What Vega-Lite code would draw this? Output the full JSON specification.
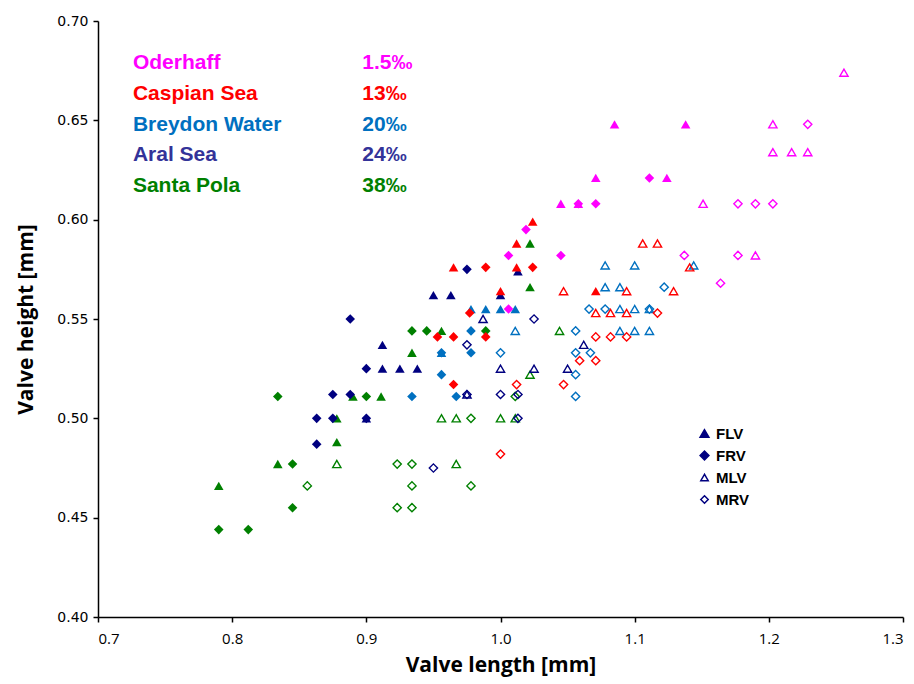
{
  "$schema": "https://vega.github.io/schema/vega-lite/v6.json",
  "width": 805,
  "height": 596,
  "autosize": "none",
  "padding": {"left": 98, "top": 21, "right": 11, "bottom": 67},
  "background": "white",
  "config": {
    "view": {"stroke": null},
    "axis": {"grid": false, "domainColor": "black", "domainWidth": 1.5, "tickColor": "black", "tickWidth": 1.5, "tickSize": 5, "labelColor": "black", "titleColor": "black"},
    "legend": {"labelFont": "Liberation Sans", "labelFontWeight": "bold", "labelFontSize": 15, "labelColor": "black", "symbolSize": 55, "symbolStrokeWidth": 1.5, "rowPadding": 6, "labelOffset": 4}
  },
  "datasets": {
    "pts": [
      {"site": "Santa Pola", "type": "FLV", "x": 1.022, "y": 0.588},
      {"site": "Santa Pola", "type": "FLV", "x": 1.022, "y": 0.566},
      {"site": "Santa Pola", "type": "FLV", "x": 0.956, "y": 0.544},
      {"site": "Santa Pola", "type": "FLV", "x": 0.934, "y": 0.533},
      {"site": "Santa Pola", "type": "FLV", "x": 0.890, "y": 0.511},
      {"site": "Santa Pola", "type": "FLV", "x": 0.911, "y": 0.511},
      {"site": "Santa Pola", "type": "FLV", "x": 0.878, "y": 0.500},
      {"site": "Santa Pola", "type": "FLV", "x": 0.878, "y": 0.488},
      {"site": "Santa Pola", "type": "FLV", "x": 0.834, "y": 0.477},
      {"site": "Santa Pola", "type": "FLV", "x": 0.790, "y": 0.466},
      {"site": "Santa Pola", "type": "FRV", "x": 0.934, "y": 0.544},
      {"site": "Santa Pola", "type": "FRV", "x": 0.945, "y": 0.544},
      {"site": "Santa Pola", "type": "FRV", "x": 0.989, "y": 0.544},
      {"site": "Santa Pola", "type": "FRV", "x": 0.900, "y": 0.511},
      {"site": "Santa Pola", "type": "FRV", "x": 0.834, "y": 0.511},
      {"site": "Santa Pola", "type": "FRV", "x": 0.845, "y": 0.477},
      {"site": "Santa Pola", "type": "FRV", "x": 0.845, "y": 0.455},
      {"site": "Santa Pola", "type": "FRV", "x": 0.790, "y": 0.444},
      {"site": "Santa Pola", "type": "FRV", "x": 0.812, "y": 0.444},
      {"site": "Santa Pola", "type": "MLV", "x": 1.044, "y": 0.544},
      {"site": "Santa Pola", "type": "MLV", "x": 1.022, "y": 0.522},
      {"site": "Santa Pola", "type": "MLV", "x": 0.956, "y": 0.500},
      {"site": "Santa Pola", "type": "MLV", "x": 0.967, "y": 0.500},
      {"site": "Santa Pola", "type": "MLV", "x": 1.000, "y": 0.500},
      {"site": "Santa Pola", "type": "MLV", "x": 1.011, "y": 0.500},
      {"site": "Santa Pola", "type": "MLV", "x": 0.878, "y": 0.477},
      {"site": "Santa Pola", "type": "MLV", "x": 0.967, "y": 0.477},
      {"site": "Santa Pola", "type": "MRV", "x": 0.978, "y": 0.500},
      {"site": "Santa Pola", "type": "MRV", "x": 1.011, "y": 0.511},
      {"site": "Santa Pola", "type": "MRV", "x": 0.923, "y": 0.477},
      {"site": "Santa Pola", "type": "MRV", "x": 0.934, "y": 0.477},
      {"site": "Santa Pola", "type": "MRV", "x": 0.856, "y": 0.466},
      {"site": "Santa Pola", "type": "MRV", "x": 0.934, "y": 0.466},
      {"site": "Santa Pola", "type": "MRV", "x": 0.978, "y": 0.466},
      {"site": "Santa Pola", "type": "MRV", "x": 0.923, "y": 0.455},
      {"site": "Santa Pola", "type": "MRV", "x": 0.934, "y": 0.455},
      {"site": "Aral Sea", "type": "FLV", "x": 1.013, "y": 0.574},
      {"site": "Aral Sea", "type": "FLV", "x": 1.000, "y": 0.562},
      {"site": "Aral Sea", "type": "FLV", "x": 0.950, "y": 0.562},
      {"site": "Aral Sea", "type": "FLV", "x": 0.963, "y": 0.562},
      {"site": "Aral Sea", "type": "FLV", "x": 0.912, "y": 0.537},
      {"site": "Aral Sea", "type": "FLV", "x": 0.912, "y": 0.525},
      {"site": "Aral Sea", "type": "FLV", "x": 0.925, "y": 0.525},
      {"site": "Aral Sea", "type": "FLV", "x": 0.938, "y": 0.525},
      {"site": "Aral Sea", "type": "FLV", "x": 0.900, "y": 0.500},
      {"site": "Aral Sea", "type": "FRV", "x": 0.975, "y": 0.575},
      {"site": "Aral Sea", "type": "FRV", "x": 0.888, "y": 0.550},
      {"site": "Aral Sea", "type": "FRV", "x": 0.900, "y": 0.525},
      {"site": "Aral Sea", "type": "FRV", "x": 0.875, "y": 0.512},
      {"site": "Aral Sea", "type": "FRV", "x": 0.888, "y": 0.512},
      {"site": "Aral Sea", "type": "FRV", "x": 0.863, "y": 0.500},
      {"site": "Aral Sea", "type": "FRV", "x": 0.875, "y": 0.500},
      {"site": "Aral Sea", "type": "FRV", "x": 0.863, "y": 0.487},
      {"site": "Aral Sea", "type": "FRV", "x": 0.900, "y": 0.500},
      {"site": "Aral Sea", "type": "MLV", "x": 0.987, "y": 0.550},
      {"site": "Aral Sea", "type": "MLV", "x": 1.000, "y": 0.525},
      {"site": "Aral Sea", "type": "MLV", "x": 1.025, "y": 0.525},
      {"site": "Aral Sea", "type": "MLV", "x": 1.050, "y": 0.525},
      {"site": "Aral Sea", "type": "MLV", "x": 1.062, "y": 0.537},
      {"site": "Aral Sea", "type": "MLV", "x": 0.975, "y": 0.512},
      {"site": "Aral Sea", "type": "MRV", "x": 1.025, "y": 0.550},
      {"site": "Aral Sea", "type": "MRV", "x": 0.975, "y": 0.537},
      {"site": "Aral Sea", "type": "MRV", "x": 0.975, "y": 0.512},
      {"site": "Aral Sea", "type": "MRV", "x": 1.000, "y": 0.512},
      {"site": "Aral Sea", "type": "MRV", "x": 1.013, "y": 0.512},
      {"site": "Aral Sea", "type": "MRV", "x": 1.013, "y": 0.500},
      {"site": "Aral Sea", "type": "MRV", "x": 0.950, "y": 0.475},
      {"site": "Breydon Water", "type": "FLV", "x": 0.978, "y": 0.555},
      {"site": "Breydon Water", "type": "FLV", "x": 0.989, "y": 0.555},
      {"site": "Breydon Water", "type": "FLV", "x": 1.000, "y": 0.555},
      {"site": "Breydon Water", "type": "FLV", "x": 1.011, "y": 0.555},
      {"site": "Breydon Water", "type": "FLV", "x": 0.956, "y": 0.533},
      {"site": "Breydon Water", "type": "FRV", "x": 0.956, "y": 0.533},
      {"site": "Breydon Water", "type": "FRV", "x": 0.978, "y": 0.544},
      {"site": "Breydon Water", "type": "FRV", "x": 0.978, "y": 0.533},
      {"site": "Breydon Water", "type": "FRV", "x": 0.956, "y": 0.522},
      {"site": "Breydon Water", "type": "FRV", "x": 0.967, "y": 0.511},
      {"site": "Breydon Water", "type": "FRV", "x": 0.934, "y": 0.511},
      {"site": "Breydon Water", "type": "MLV", "x": 1.011, "y": 0.544},
      {"site": "Breydon Water", "type": "MLV", "x": 1.078, "y": 0.577},
      {"site": "Breydon Water", "type": "MLV", "x": 1.100, "y": 0.577},
      {"site": "Breydon Water", "type": "MLV", "x": 1.144, "y": 0.577},
      {"site": "Breydon Water", "type": "MLV", "x": 1.078, "y": 0.566},
      {"site": "Breydon Water", "type": "MLV", "x": 1.089, "y": 0.566},
      {"site": "Breydon Water", "type": "MLV", "x": 1.089, "y": 0.555},
      {"site": "Breydon Water", "type": "MLV", "x": 1.100, "y": 0.555},
      {"site": "Breydon Water", "type": "MLV", "x": 1.111, "y": 0.555},
      {"site": "Breydon Water", "type": "MLV", "x": 1.089, "y": 0.544},
      {"site": "Breydon Water", "type": "MLV", "x": 1.100, "y": 0.544},
      {"site": "Breydon Water", "type": "MLV", "x": 1.111, "y": 0.544},
      {"site": "Breydon Water", "type": "MRV", "x": 1.122, "y": 0.566},
      {"site": "Breydon Water", "type": "MRV", "x": 1.066, "y": 0.555},
      {"site": "Breydon Water", "type": "MRV", "x": 1.078, "y": 0.555},
      {"site": "Breydon Water", "type": "MRV", "x": 1.111, "y": 0.555},
      {"site": "Breydon Water", "type": "MRV", "x": 1.056, "y": 0.544},
      {"site": "Breydon Water", "type": "MRV", "x": 1.056, "y": 0.533},
      {"site": "Breydon Water", "type": "MRV", "x": 1.067, "y": 0.533},
      {"site": "Breydon Water", "type": "MRV", "x": 1.056, "y": 0.522},
      {"site": "Breydon Water", "type": "MRV", "x": 1.056, "y": 0.511},
      {"site": "Breydon Water", "type": "MRV", "x": 1.000, "y": 0.533},
      {"site": "Caspian Sea", "type": "FLV", "x": 1.024, "y": 0.599},
      {"site": "Caspian Sea", "type": "FLV", "x": 1.012, "y": 0.588},
      {"site": "Caspian Sea", "type": "FLV", "x": 0.965, "y": 0.576},
      {"site": "Caspian Sea", "type": "FLV", "x": 1.012, "y": 0.576},
      {"site": "Caspian Sea", "type": "FLV", "x": 1.000, "y": 0.564},
      {"site": "Caspian Sea", "type": "FLV", "x": 1.071, "y": 0.564},
      {"site": "Caspian Sea", "type": "FRV", "x": 0.989, "y": 0.576},
      {"site": "Caspian Sea", "type": "FRV", "x": 1.024, "y": 0.576},
      {"site": "Caspian Sea", "type": "FRV", "x": 0.977, "y": 0.553},
      {"site": "Caspian Sea", "type": "FRV", "x": 0.953, "y": 0.541},
      {"site": "Caspian Sea", "type": "FRV", "x": 0.965, "y": 0.541},
      {"site": "Caspian Sea", "type": "FRV", "x": 0.989, "y": 0.541},
      {"site": "Caspian Sea", "type": "FRV", "x": 0.965, "y": 0.517},
      {"site": "Caspian Sea", "type": "MLV", "x": 1.047, "y": 0.564},
      {"site": "Caspian Sea", "type": "MLV", "x": 1.106, "y": 0.588},
      {"site": "Caspian Sea", "type": "MLV", "x": 1.117, "y": 0.588},
      {"site": "Caspian Sea", "type": "MLV", "x": 1.141, "y": 0.576},
      {"site": "Caspian Sea", "type": "MLV", "x": 1.094, "y": 0.564},
      {"site": "Caspian Sea", "type": "MLV", "x": 1.129, "y": 0.564},
      {"site": "Caspian Sea", "type": "MLV", "x": 1.071, "y": 0.553},
      {"site": "Caspian Sea", "type": "MLV", "x": 1.082, "y": 0.553},
      {"site": "Caspian Sea", "type": "MLV", "x": 1.094, "y": 0.553},
      {"site": "Caspian Sea", "type": "MRV", "x": 1.117, "y": 0.553},
      {"site": "Caspian Sea", "type": "MRV", "x": 1.071, "y": 0.541},
      {"site": "Caspian Sea", "type": "MRV", "x": 1.082, "y": 0.541},
      {"site": "Caspian Sea", "type": "MRV", "x": 1.094, "y": 0.541},
      {"site": "Caspian Sea", "type": "MRV", "x": 1.059, "y": 0.529},
      {"site": "Caspian Sea", "type": "MRV", "x": 1.071, "y": 0.529},
      {"site": "Caspian Sea", "type": "MRV", "x": 1.047, "y": 0.517},
      {"site": "Caspian Sea", "type": "MRV", "x": 1.012, "y": 0.517},
      {"site": "Caspian Sea", "type": "MRV", "x": 1.000, "y": 0.482},
      {"site": "Oderhaff", "type": "FLV", "x": 1.085, "y": 0.648},
      {"site": "Oderhaff", "type": "FLV", "x": 1.138, "y": 0.648},
      {"site": "Oderhaff", "type": "FLV", "x": 1.071, "y": 0.621},
      {"site": "Oderhaff", "type": "FLV", "x": 1.124, "y": 0.621},
      {"site": "Oderhaff", "type": "FLV", "x": 1.045, "y": 0.608},
      {"site": "Oderhaff", "type": "FLV", "x": 1.058, "y": 0.608},
      {"site": "Oderhaff", "type": "FRV", "x": 1.111, "y": 0.621},
      {"site": "Oderhaff", "type": "FRV", "x": 1.058, "y": 0.608},
      {"site": "Oderhaff", "type": "FRV", "x": 1.071, "y": 0.608},
      {"site": "Oderhaff", "type": "FRV", "x": 1.019, "y": 0.595},
      {"site": "Oderhaff", "type": "FRV", "x": 1.006, "y": 0.582},
      {"site": "Oderhaff", "type": "FRV", "x": 1.045, "y": 0.582},
      {"site": "Oderhaff", "type": "FRV", "x": 1.006, "y": 0.555},
      {"site": "Oderhaff", "type": "MLV", "x": 1.256, "y": 0.674},
      {"site": "Oderhaff", "type": "MLV", "x": 1.203, "y": 0.648},
      {"site": "Oderhaff", "type": "MLV", "x": 1.203, "y": 0.634},
      {"site": "Oderhaff", "type": "MLV", "x": 1.217, "y": 0.634},
      {"site": "Oderhaff", "type": "MLV", "x": 1.229, "y": 0.634},
      {"site": "Oderhaff", "type": "MLV", "x": 1.151, "y": 0.608},
      {"site": "Oderhaff", "type": "MLV", "x": 1.190, "y": 0.582},
      {"site": "Oderhaff", "type": "MRV", "x": 1.229, "y": 0.648},
      {"site": "Oderhaff", "type": "MRV", "x": 1.177, "y": 0.608},
      {"site": "Oderhaff", "type": "MRV", "x": 1.190, "y": 0.608},
      {"site": "Oderhaff", "type": "MRV", "x": 1.203, "y": 0.608},
      {"site": "Oderhaff", "type": "MRV", "x": 1.177, "y": 0.582},
      {"site": "Oderhaff", "type": "MRV", "x": 1.137, "y": 0.582},
      {"site": "Oderhaff", "type": "MRV", "x": 1.164, "y": 0.568}
    ],
    "labels": [
      {"site": "Oderhaff", "sal": "1.5‰"},
      {"site": "Caspian Sea", "sal": "13‰"},
      {"site": "Breydon Water", "sal": "20‰"},
      {"site": "Aral Sea", "sal": "24‰"},
      {"site": "Santa Pola", "sal": "38‰"}
    ]
  },
  "layer": [
    {
      "layer": [
        {
          "data": {"name": "pts"},
          "transform": [{"filter": "datum.type === 'FLV' || datum.type === 'FRV'"}],
          "mark": {"type": "point", "filled": true, "size": 92, "opacity": 1},
          "encoding": {
            "x": {
              "field": "x", "type": "quantitative",
              "scale": {"domain": [0.7, 1.3], "nice": false, "zero": false},
              "axis": {"values": [0.7, 0.8, 0.9, 1.0, 1.1, 1.2, 1.3], "format": ".1f", "title": "Valve length [mm]", "labelFont": "Open Sans", "labelFontSize": 15, "labelPadding": 9, "titleFont": "Open Sans", "titleFontSize": 21, "titleFontWeight": "bold", "titlePadding": 8}
            },
            "y": {
              "field": "y", "type": "quantitative",
              "scale": {"domain": [0.4, 0.7], "nice": false, "zero": false},
              "axis": {"values": [0.4, 0.45, 0.5, 0.55, 0.6, 0.65, 0.7], "format": ".2f", "title": "Valve height [mm]", "labelFont": "DejaVu Sans", "labelFontSize": 14, "labelPadding": 5, "titleFont": "Open Sans", "titleFontSize": 21, "titleFontWeight": "bold", "titlePadding": 20}
            },
            "shape": {
              "field": "type", "type": "nominal",
              "scale": {"domain": ["FLV", "FRV"], "range": ["triangle-up", "diamond"]},
              "legend": {"orient": "none", "legendX": 599, "legendY": 405, "title": null, "symbolSize": 78, "symbolFillColor": "#000080", "symbolStrokeColor": "#000080"}
            },
            "color": {
              "field": "site", "type": "nominal",
              "scale": {"domain": ["Oderhaff", "Caspian Sea", "Breydon Water", "Aral Sea", "Santa Pola"], "range": ["#FF00FF", "#FF0000", "#0070C0", "#000080", "#008000"]},
              "legend": null
            }
          }
        },
        {
          "data": {"name": "pts"},
          "transform": [{"filter": "datum.type === 'MLV' || datum.type === 'MRV'"}],
          "mark": {"type": "point", "filled": false, "size": 68, "strokeWidth": 1.4, "opacity": 1},
          "encoding": {
            "x": {"field": "x", "type": "quantitative"},
            "y": {"field": "y", "type": "quantitative"},
            "shape": {
              "field": "type", "type": "nominal",
              "scale": {"domain": ["MLV", "MRV"], "range": ["triangle-up", "diamond"]},
              "legend": {"orient": "none", "legendX": 599, "legendY": 449, "title": null, "symbolFillColor": "transparent", "symbolStrokeColor": "#000080"}
            },
            "color": {
              "field": "site", "type": "nominal",
              "scale": {"domain": ["Oderhaff", "Caspian Sea", "Breydon Water", "Aral Sea", "Santa Pola"], "range": ["#FF00FF", "#FF0000", "#0070C0", "#000080", "#008000"]},
              "legend": null
            }
          }
        }
      ],
      "resolve": {"scale": {"shape": "independent"}, "legend": {"shape": "independent"}}
    },
    {
      "data": {"name": "labels"},
      "mark": {"type": "text", "align": "left", "baseline": "middle", "font": "Liberation Sans", "fontWeight": "bold", "fontSize": 21},
      "encoding": {
        "x": {"datum": 0.726, "type": "quantitative"},
        "y": {"field": "site", "type": "ordinal", "sort": null, "scale": {"domain": ["Oderhaff", "Caspian Sea", "Breydon Water", "Aral Sea", "Santa Pola"], "range": [42, 165], "padding": 0}, "axis": null},
        "text": {"field": "site"},
        "color": {"field": "site", "type": "nominal", "scale": {"domain": ["Oderhaff", "Caspian Sea", "Breydon Water", "Aral Sea", "Santa Pola"], "range": ["#FF00FF", "#FF0000", "#0070C0", "#333399", "#008000"]}, "legend": null}
      }
    },
    {
      "data": {"name": "labels"},
      "mark": {"type": "text", "align": "left", "baseline": "middle", "font": "Liberation Sans", "fontWeight": "bold", "fontSize": 21},
      "encoding": {
        "x": {"datum": 0.897, "type": "quantitative"},
        "y": {"field": "site", "type": "ordinal", "sort": null, "scale": {"domain": ["Oderhaff", "Caspian Sea", "Breydon Water", "Aral Sea", "Santa Pola"], "range": [42, 165], "padding": 0}, "axis": null},
        "text": {"field": "sal"},
        "color": {"field": "site", "type": "nominal", "scale": {"domain": ["Oderhaff", "Caspian Sea", "Breydon Water", "Aral Sea", "Santa Pola"], "range": ["#FF00FF", "#FF0000", "#0070C0", "#333399", "#008000"]}, "legend": null}
      }
    }
  ],
  "resolve": {"scale": {"y": "independent", "color": "independent"}}
}
